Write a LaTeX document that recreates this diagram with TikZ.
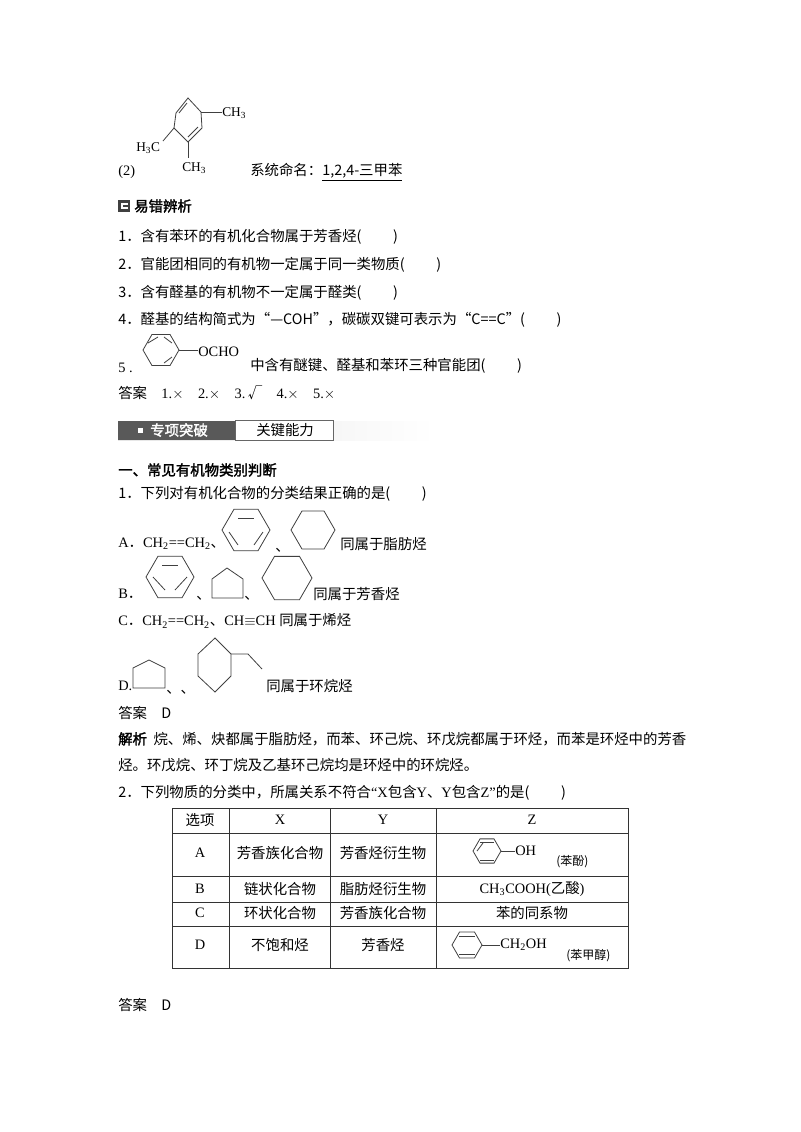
\documentclass[tikz,border=0pt]{standalone}
\usepackage{fontspec}
\setmainfont{Liberation Serif}
\newfontfamily\cjk{Noto Sans CJK SC}
\newfontfamily\cjkb{Noto Sans CJK SC}[FakeBold=2]
\usetikzlibrary{calc}
\newcommand\hexflat[3]{\draw[ring] ($(#1,#2)+(-#3,0)$) -- ++(0.5*#3,-0.866*#3) -- ++(#3,0) -- ++(0.5*#3,0.866*#3) -- ++(-0.5*#3,0.866*#3) -- ++(-#3,0) -- cycle;}
\tikzset{ring/.style={draw=black!75,line width=0.6pt},
 tx/.style={anchor=west,inner sep=0pt,font=\fontsize{10.8pt}{12pt}\selectfont},
 cell/.style={inner sep=0pt,font=\fontsize{10.8pt}{12pt}\selectfont}}
\begin{document}
\begin{tikzpicture}[x=0.75pt,y=-0.75pt]
\useasboundingbox[fill=white] (0,0) rectangle (800,1132);
% structure (2)
\draw[ring] (188,98)--(201,112)--(202,128)--(188,142)--(174,128)--(176,113)--cycle;
\draw[ring] (187,103)--(179,113);
\draw[ring] (188,137)--(198,127);
\draw[ring] (201,112)--(222,112);
\draw[ring] (174,128)--(163,141);
\draw[ring] (188,142)--(188,158);
\node[tx] (ch3a) at (222,113) {\fontsize{10pt}{10pt}\selectfont CH\textsubscript{3}};
\node[tx] (h3c) at (136,148) {\fontsize{10pt}{10pt}\selectfont H\textsubscript{3}C};
\node[tx] (ch3b) at (182,168) {\fontsize{10pt}{10pt}\selectfont CH\textsubscript{3}};
\node[tx] (n2) at (118,172) {(2)};
\node[tx] (nm) at (250,172) {\cjk 系统命名：\underline{1,2,4-三甲苯}};
% section head
\fill[black!75] (118,200) rectangle (130,212);
\fill[white] (121,203) rectangle (128,209);
\fill[black!75] (123,205) rectangle (128,207);
\node[tx] (yc) at (134,206) {\cjkb 易错辨析};
\node[tx] (i1) at (118,237) {\cjk 1．含有苯环的有机化合物属于芳香烃(\hspace{2.2em})};
\node[tx] (i2) at (118,265) {\cjk 2．官能团相同的有机物一定属于同一类物质(\hspace{2.2em})};
\node[tx] (i3) at (118,293) {\cjk 3．含有醛基的有机物不一定属于醛类(\hspace{2.2em})};
\node[tx] (i4) at (118,320) {\cjk 4．醛基的结构简式为“—COH”，碳碳双键可表示为“C==C”(\hspace{2.2em})};
\node[tx] (i5a) at (118,368) {5 .};
\hexflat{161}{350}{18}
\draw[ring] (148,343)--(158,337); \draw[ring] (172,343)--(164,337); \draw[ring] (172,357)--(164,363);
\draw[ring] (179,350)--(198,350);
\node[tx] (ocho) at (198,352) {OCHO};
\node[tx] (i5) at (250,366) {\cjk 中含有醚键、醛基和苯环三种官能团(\hspace{2.2em})};
\node[tx] (ans1) at (118,393) {{\cjk 答案}\quad 1.$\times$\quad 2.$\times$\quad 3.\,{\cjk √}\quad 4.$\times$\quad 5.$\times$};
% banner
\shade[left color=black!10,right color=white] (118,421) rectangle (435,440);
\fill[black!65] (118,421) rectangle (235,440);
\draw[black!60,fill=white] (235,420) rectangle (333,440);
\fill[white] (138,428) rectangle (143,433);
\node[tx,text=white] (zx) at (150,430) {\cjkb 专项突破};
\node[tx] (gj) at (256,430) {\cjk 关键能力};
\node[tx] (s1) at (118,470) {\cjkb 一、常见有机物类别判断};
\node[tx] (q1) at (118,494) {\cjk 1．下列对有机化合物的分类结果正确的是(\hspace{2.2em})};
% A
\node[tx] (qa) at (118,544) {A{\cjk ．}CH\textsubscript{2}==CH\textsubscript{2}{\cjk 、}};
\hexflat{246}{530}{24}
\draw[ring] (238,518)--(254,518); \draw[ring] (229,532)--(238,545); \draw[ring] (263,532)--(254,545);
\node[tx] (da) at (275,550) {\cjk 、};
\hexflat{313}{530}{22}
\node[tx] (qa2) at (340,544) {\cjk 同属于脂肪烃};
% B
\node[tx] (qb) at (118,594) {B{\cjk ．}};
\hexflat{170}{577}{24}
\draw[ring] (162,565)--(178,565); \draw[ring] (153,577)--(165,590); \draw[ring] (187,577)--(175,590);
\node[tx] (db1) at (196,598) {\cjk 、};
\draw[ring] (212,598)--(212,579)--(227,568)--(243,579)--(243,598)--cycle;
\node[tx] (db2) at (244,598) {\cjk 、};
\hexflat{287}{578}{25}
\node[tx] (qb2) at (313,594) {\cjk 同属于芳香烃};
% C
\node[tx] (qc) at (118,621) {C{\cjk ．}CH\textsubscript{2}==CH\textsubscript{2}{\cjk 、}CH$\equiv$CH {\cjk 同属于烯烃}};
% D
\node[tx] (qd) at (118,686) {D.};
\draw[ring] (133,688)--(133,668)--(149,660)--(165,668)--(165,688)--cycle;
\node[tx] (dd) at (166,692) {\cjk 、、};
\draw[ring] (198,654)--(215,638)--(231,654)--(231,676)--(215,692)--(198,676)--cycle;
\draw[ring] (231,654)--(248,654)--(262,669);
\node[tx] (qd2) at (266,686) {\cjk 同属于环烷烃};
\node[tx] (ans2) at (118,713) {\cjk 答案\quad D};
\node[tx] (jx1) at (118,739) {\cjkb 解析\cjk\ \ 烷、烯、炔都属于脂肪烃，而苯、环己烷、环戊烷都属于环烃，而苯是环烃中的芳香};
\node[tx] (jx2) at (118,765) {\cjk 烃。环戊烷、环丁烷及乙基环己烷均是环烃中的环烷烃。};
\node[tx] (q2) at (118,793) {{\cjk 2．下列物质的分类中，所属关系不符合}“X{\cjk 包含}Y{\cjk 、}Y{\cjk 包含}Z”{\cjk 的是(\hspace{2.2em})}};
% table
\draw[black!80,line width=0.7pt] (172,808) rectangle (628,968);
\foreach \x in {229,330,436} \draw[black!80,line width=0.6pt] (\x,808)--(\x,968);
\foreach \y in {833,876,902,926} \draw[black!80,line width=0.6pt] (172,\y)--(628,\y);
\node[cell] (h0) at (200,820) {\cjk 选项};
\node[cell] (h1) at (280,820) {X};
\node[cell] (h2) at (383,820) {Y};
\node[cell] (h3) at (532,820) {Z};
\node[cell] (ra) at (200,853) {A};
\node[cell] (rax) at (280,853) {\cjk 芳香族化合物};
\node[cell] (ray) at (383,853) {\cjk 芳香烃衍生物};
\hexflat{487}{851}{14}
\draw[ring] (480,842)--(494,842); \draw[ring] (480,860)--(494,860); \draw[ring] (477,851)--(483,843);
\draw[ring] (501,851)--(515,851);
\node[tx] (oh) at (515,851) {OH};
\node[tx] (bf) at (556,862) {\small\cjk (苯酚)};
\node[cell] (rb) at (200,889) {B};
\node[cell] (rbx) at (280,889) {\cjk 链状化合物};
\node[cell] (rby) at (383,889) {\cjk 脂肪烃衍生物};
\node[cell] (rbz) at (532,889) {CH\textsubscript{3}COOH({\cjk 乙酸})};
\node[cell] (rc) at (200,913) {C};
\node[cell] (rcx) at (280,913) {\cjk 环状化合物};
\node[cell] (rcy) at (383,913) {\cjk 芳香族化合物};
\node[cell] (rcz) at (532,913) {\cjk 苯的同系物};
\node[cell] (rd) at (200,945) {D};
\node[cell] (rdx) at (280,945) {\cjk 不饱和烃};
\node[cell] (rdy) at (383,945) {\cjk 芳香烃};
\hexflat{467}{945}{15}
\draw[ring] (459,936)--(475,936); \draw[ring] (459,954)--(475,954);
\draw[ring] (482,945)--(500,945);
\node[tx] (ch2oh) at (500,945) {CH\textsubscript{2}OH};
\node[tx] (bjc) at (566,956) {\small\cjk (苯甲醇)};
\node[tx] (ans3) at (118,1005) {\cjk 答案\quad D};
\end{tikzpicture}
\end{document}
